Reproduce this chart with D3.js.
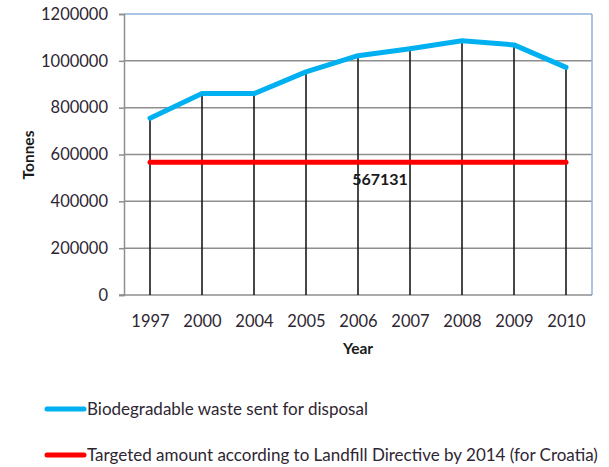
<!DOCTYPE html>
<html><head><meta charset="utf-8">
<script src="https://cdn.jsdelivr.net/npm/d3@7"></script>
<style>body{margin:0;background:#fff}</style>
</head><body>
<script>
const years = ["1997","2000","2004","2005","2006","2007","2008","2009","2010"];
const wasteValues = [755000, 861000, 860000, 953000, 1022000, 1052000, 1086000, 1068000, 972000];
const targetValue = 567131;
const yTicks = [0, 200000, 400000, 600000, 800000, 1000000, 1200000];
const seriesNames = ["Biodegradable waste sent for disposal", "Targeted amount according to Landfill Directive by 2014 (for Croatia)"];
const colors = ["#00b0f0", "#ff0000"];

const W = 609, H = 467;
const m = {left: 124, top: 14, right: 592, bottom: 295};
const font = "Lato, 'Liberation Sans', sans-serif";
const textColor = "#2e2633";

const svg = d3.select("body").append("svg").attr("width", W).attr("height", H);

const x = d3.scalePoint().domain(years).range([m.left, m.right]).padding(0.5);
const y = d3.scaleLinear().domain([0, 1200000]).range([m.bottom, m.top]);

// gridlines
svg.append("g").selectAll("line").data(yTicks.filter(d => d > 0 && d < 1200000)).join("line")
  .attr("x1", m.left).attr("x2", m.right).attr("y1", d => y(d)).attr("y2", d => y(d))
  .attr("stroke", "#8e8e8e").attr("stroke-width", 1.5);

// top and right border (bluish)
svg.append("line").attr("x1", m.left).attr("x2", m.right).attr("y1", y(1200000)).attr("y2", y(1200000))
  .attr("stroke", "#8eb1dc").attr("stroke-width", 1.5);
svg.append("line").attr("x1", m.right).attr("x2", m.right).attr("y1", m.top).attr("y2", m.bottom)
  .attr("stroke", "#8eb1dc").attr("stroke-width", 1.5);

// y axis
const yAxis = svg.append("g").attr("transform", `translate(${m.left},0)`)
  .call(d3.axisLeft(y).tickValues(yTicks).tickSize(5).tickPadding(11).tickFormat(d3.format("d")));
yAxis.select(".domain").attr("stroke", "#8e8e8e").attr("stroke-width", 1.5);
yAxis.selectAll(".tick line").attr("stroke", "#8e8e8e").attr("stroke-width", 1.5);
yAxis.selectAll("text").attr("font-family", font).attr("font-size", 16.5).attr("fill", textColor);

// x axis
const xAxis = svg.append("g").attr("transform", `translate(0,${m.bottom})`)
  .call(d3.axisBottom(x).tickSize(0).tickPadding(20));
xAxis.select(".domain").remove();
svg.append("line").attr("x1", m.left - 5).attr("x2", m.right).attr("y1", m.bottom).attr("y2", m.bottom)
  .attr("stroke", "#8e8e8e").attr("stroke-width", 1.5);
xAxis.selectAll("text").attr("font-family", font).attr("font-size", 16.5).attr("fill", textColor);

// drop lines
svg.append("g").selectAll("line").data(years).join("line")
  .attr("x1", d => x(d)).attr("x2", d => x(d))
  .attr("y1", (d, i) => y(wasteValues[i])).attr("y2", y(0))
  .attr("stroke", "#1a1a1a").attr("stroke-width", 1.6);

// target line
svg.append("line").attr("x1", x(years[0])).attr("x2", x(years[years.length - 1]))
  .attr("y1", y(targetValue)).attr("y2", y(targetValue))
  .attr("stroke", colors[1]).attr("stroke-width", 5).attr("stroke-linecap", "round");

// waste line
const line = d3.line().x((d, i) => x(years[i])).y(d => y(d));
svg.append("path").datum(wasteValues).attr("d", line).attr("fill", "none")
  .attr("stroke", colors[0]).attr("stroke-width", 5).attr("stroke-linejoin", "round").attr("stroke-linecap", "round");

// data label
svg.append("text").attr("x", (x("2006") + x("2007")) / 2 - 4).attr("y", y(targetValue) + 23)
  .attr("text-anchor", "middle").attr("font-family", font).attr("font-weight", "bold")
  .attr("font-size", 16).attr("fill", "#1a1a1a").text(d3.format("d")(targetValue));

// axis titles
svg.append("text").attr("x", 358).attr("y", 354).attr("text-anchor", "middle")
  .attr("font-family", font).attr("font-weight", "bold").attr("font-size", 15.5).attr("fill", "#1a1a1a").text("Year");
svg.append("text").attr("transform", "translate(34,155) rotate(-90)").attr("text-anchor", "middle")
  .attr("font-family", font).attr("font-weight", "bold").attr("font-size", 15.5).attr("fill", "#1a1a1a").text("Tonnes");

// legend
const legY = [409, 455];
seriesNames.forEach((name, i) => {
  svg.append("line").attr("x1", 47).attr("x2", 84).attr("y1", legY[i]).attr("y2", legY[i])
    .attr("stroke", colors[i]).attr("stroke-width", 5).attr("stroke-linecap", "round");
  svg.append("text").attr("x", 87).attr("y", legY[i]).attr("dy", "0.35em")
    .attr("font-family", font).attr("font-size", 17).attr("fill", textColor).text(name);
});
</script>
</body></html>
